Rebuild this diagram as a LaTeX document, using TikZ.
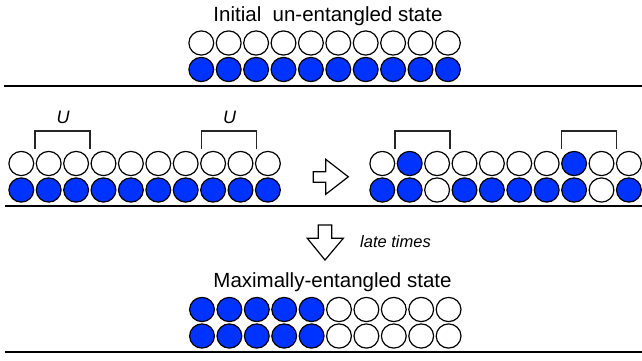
\documentclass[tikz,border=0pt]{standalone}
\usepackage{fontspec}
\setmainfont{Liberation Sans}
\usetikzlibrary{shapes.geometric}
\definecolor{qblue}{RGB}{0,51,255}
\begin{document}
\begin{tikzpicture}[x=1pt,y=-1pt,
  qubit/.style={ellipse,draw=black,line width=1.2pt,minimum width=24.8pt,minimum height=24.2pt,inner sep=0pt},
  rule/.style={line width=2pt,black},
  gate/.style={line width=1.5pt,black!85},
  blockarrow/.style={draw=black,fill=white,line width=1.2pt,line join=miter},
  bigtext/.style={font=\fontsize{20.5}{24}\selectfont,anchor=base,inner sep=0pt},
  ulabel/.style={font=\fontsize{18}{22}\selectfont\itshape,anchor=base,inner sep=0pt}]
\useasboundingbox (0,0) rectangle (642,360);

% ---------- top section ----------
\node[bigtext] (title) at (328,21.5) {Initial\ \ un-entangled state};
\foreach \i in {1,...,10} {
  \node[qubit,fill=white] (ta\i) at ({201.3+(\i-1)*27.4},43) {};
  \node[qubit,fill=qblue] (tb\i) at ({201.3+(\i-1)*27.4},69.5) {};
}
\draw[rule] (4,86) -- (642,86);

% ---------- middle left ----------
\foreach \i in {1,...,10} {
  \node[qubit,fill=white] (la\i) at ({21.3+(\i-1)*27.4},163.5) {};
  \node[qubit,fill=qblue] (lb\i) at ({21.3+(\i-1)*27.4},190) {};
}
\draw[gate] (35,148.5) -- (35,131) -- (90,131) -- (90,148.5);
\draw[gate] (201.7,148.5) -- (201.7,131) -- (256.7,131) -- (256.7,148.5);
\node[ulabel] (u1) at (63,123) {U};
\node[ulabel] (u2) at (229.5,123) {U};

% ---------- right arrow ----------
\draw[blockarrow] (313.3,171.7) -- (325.7,171.7) -- (325.7,159.3) -- (348.3,176.8)
  -- (325.7,194.3) -- (325.7,182.3) -- (313.3,182.3) -- cycle;

% ---------- middle right ----------
\foreach \c [count=\i] in {white,qblue,white,white,white,white,white,qblue,white,white} {
  \node[qubit,fill=\c] (ra\i) at ({382.3+(\i-1)*27.4},163.5) {};
}
\foreach \c [count=\i] in {qblue,qblue,white,qblue,qblue,qblue,qblue,qblue,white,qblue} {
  \node[qubit,fill=\c] (rb\i) at ({382.3+(\i-1)*27.4},190) {};
}
\draw[gate] (395,148.5) -- (395,131) -- (450,131) -- (450,148.5);
\draw[gate] (561.7,148.5) -- (561.7,131) -- (616.7,131) -- (616.7,148.5);
\draw[rule] (5,206) -- (642,206);

% ---------- down arrow ----------
\draw[blockarrow] (318.3,225) -- (331.7,225) -- (331.7,238.3) -- (343.3,238.3)
  -- (325,260) -- (307.3,238.3) -- (318.3,238.3) -- cycle;
\node[font=\fontsize{16.5}{20}\selectfont\itshape,anchor=base west,inner sep=0pt] (late) at (360,247) {late times};

% ---------- bottom section ----------
\node[bigtext] (final) at (332.5,287) {Maximally-entangled state};
\foreach \c [count=\i] in {qblue,qblue,qblue,qblue,qblue,white,white,white,white,white} {
  \node[qubit,fill=\c] (ba\i) at ({202+(\i-1)*27.4},309.5) {};
  \node[qubit,fill=\c] (bb\i) at ({202+(\i-1)*27.4},336) {};
}
\draw[rule] (5,352) -- (642,352);
\end{tikzpicture}
\end{document}
